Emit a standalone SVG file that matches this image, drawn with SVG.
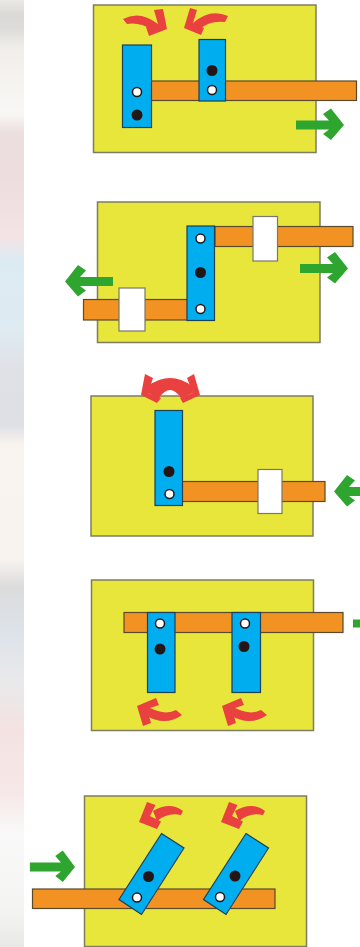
<svg xmlns="http://www.w3.org/2000/svg" xmlns:xlink="http://www.w3.org/1999/xlink" width="360" height="947" viewBox="0 0 360 947">
<style>
.panel{fill:#e9e63a;stroke:#7d7d63;stroke-width:1.5}
.bar{fill:#f29222;stroke:#5a4a2a;stroke-width:1.2}
.link{fill:#00aeef;stroke:#1b3f57;stroke-width:1.2}
.slide{fill:#fff;stroke:#77776a;stroke-width:1.2}
.pin{fill:#231815}
.pivot{fill:#fff;stroke:#231815;stroke-width:1.5}
.g{fill:#2fa52f}
.r{fill:#e9403f}
.soft{filter:url(#soft)}
</style>
<defs>
<filter id="soft" x="-2%" y="-2%" width="104%" height="104%"><feGaussianBlur stdDeviation="0.45"/></filter>
<linearGradient id="bg" gradientUnits="userSpaceOnUse" x1="0" y1="0" x2="0" y2="947">
<stop offset="0" stop-color="#ebe9e5"/><stop offset=".015" stop-color="#d9d9d7"/><stop offset=".03" stop-color="#dcdbd9"/><stop offset=".05" stop-color="#f1eeea"/><stop offset=".12" stop-color="#f9f7f5"/><stop offset=".14" stop-color="#ecdfdf"/><stop offset=".18" stop-color="#eddcde"/><stop offset=".25" stop-color="#f3e3e5"/><stop offset=".275" stop-color="#dcebf2"/><stop offset=".35" stop-color="#dfeaf1"/><stop offset=".39" stop-color="#dfe1e7"/><stop offset=".45" stop-color="#dfe0e6"/><stop offset=".47" stop-color="#faf4ef"/><stop offset=".59" stop-color="#f8f3ef"/><stop offset=".62" stop-color="#dcdcdc"/><stop offset=".67" stop-color="#dde3ea"/><stop offset=".72" stop-color="#e9e9ea"/><stop offset=".77" stop-color="#f4e2e2"/><stop offset=".84" stop-color="#f6e8e8"/><stop offset=".88" stop-color="#f9f9f9"/><stop offset=".96" stop-color="#f4f4f3"/><stop offset="1" stop-color="#e8e8e6"/>
</linearGradient>
<polygon id="greenArrow" class="g" points="-48,-4.500 -15,-4.500 -21,-11 -13,-16.500 0,0 -13,15 -21,9 -15,4.500 -48,4.500"/>
<g id="redUp"><polygon points="137,706 156,698 159,705 147,709 151,723 143,726"/><path d="M148,707Q165,716 176,710L182,715Q165,727 145,715Z"/></g>
<g id="redTilt"><polygon points="147,802 155.500,805 150,816 161,821.500 157,829 139,822"/><path d="M153,811Q170,801 183,811L181,815Q168,812 157,821Z"/></g>
</defs>
<rect width="360" height="947" fill="#fff"/>
<rect id="backdrop" width="24" height="947" fill="url(#bg)"/>
<g class="soft">
<g id="panel1">
<rect class="panel" x="93.500" y="5" width="222.500" height="147.500"/>
<rect class="bar" x="151" y="81" width="205.500" height="19.500"/>
<rect class="link" x="122.500" y="45" width="29" height="82.500"/>
<rect class="link" x="199" y="39.500" width="26.500" height="61.500"/>
<circle class="pivot" cx="137" cy="92" r="4.500"/><circle class="pin" cx="137" cy="115" r="5.500"/>
<circle class="pin" cx="212" cy="70.500" r="5.500"/><circle class="pivot" cx="212" cy="90" r="4.500"/>
</g>
<g id="panel2">
<rect class="panel" x="97.500" y="202" width="222.500" height="140.500"/>
<rect class="bar" x="215" y="226.500" width="138" height="20"/>
<rect class="bar" x="83.500" y="299.500" width="104" height="20.500"/>
<rect class="slide" x="253" y="216.500" width="24.500" height="44.500"/>
<rect class="slide" x="119" y="288" width="26" height="43"/>
<rect class="link" x="187" y="226" width="27.500" height="94.500"/>
<circle class="pivot" cx="200.500" cy="238.500" r="4.500"/><circle class="pin" cx="200.500" cy="272.500" r="5.500"/><circle class="pivot" cx="200.500" cy="309" r="4.500"/>
</g>
<g id="panel3">
<rect class="panel" x="91" y="396" width="222" height="140"/>
<rect class="bar" x="182" y="481.500" width="143" height="20"/>
<rect class="slide" x="258" y="469.500" width="24" height="44"/>
<rect class="link" x="155" y="410.500" width="27.500" height="95"/>
<circle class="pin" cx="169" cy="471.500" r="5.500"/><circle class="pivot" cx="169.500" cy="494" r="4.500"/>
</g>
<g id="panel4">
<rect class="panel" x="91.500" y="580" width="222" height="150.500"/>
<rect class="bar" x="124" y="612.500" width="219" height="20"/>
<rect class="link" x="147.500" y="612.500" width="27.500" height="80"/>
<rect class="link" x="232" y="612.500" width="28.500" height="80"/>
<circle class="pivot" cx="160" cy="623.500" r="4.500"/><circle class="pin" cx="160" cy="649" r="5.500"/>
<circle class="pivot" cx="245" cy="623.500" r="4.500"/><circle class="pin" cx="244" cy="646.500" r="5.500"/>
</g>
<g id="panel5">
<rect class="panel" x="84.500" y="796" width="222" height="150.500"/>
<rect class="bar" x="32.500" y="889" width="242.500" height="19.500"/>
<polygon class="link" points="161.500,833.500 184,848 141.500,914.500 119,899.500"/>
<polygon class="link" points="246,833.500 268.500,848 226,914.500 203.500,899.500"/>
<circle class="pin" cx="148.500" cy="876.500" r="5.500"/><circle class="pivot" cx="137" cy="897.500" r="4.500"/>
<circle class="pin" cx="235" cy="876" r="5.500"/><circle class="pivot" cx="220" cy="897" r="4.500"/>
</g>
<g id="connectors">
<use xlink:href="#greenArrow" href="#greenArrow" transform="translate(344,125)"/>
<use xlink:href="#greenArrow" href="#greenArrow" transform="translate(348,268.500)"/>
<use xlink:href="#greenArrow" href="#greenArrow" transform="translate(65,281.500) scale(-1,1)"/>
<use xlink:href="#greenArrow" href="#greenArrow" transform="translate(334,491.500) scale(-1,1)"/>
<rect class="g" x="353" y="619.500" width="7" height="8"/>
<use xlink:href="#greenArrow" href="#greenArrow" transform="translate(75,867) scale(.94,1)"/>
<g class="r">
<path d="M123,19Q140,10 158,24L152,30Q140,22 127,24Z"/><polygon points="154,10 163,9 167,29 149,36 146,27 158,24"/>
<path d="M228,16Q210,8 193,23L198,30Q210,20 225,22Z"/><polygon points="190,8 197,10 193,23 204,28 201,35 184,28"/>
<path d="M148,386Q170,370 192,386L193,393L181,398Q170,382 159,398L148,393Z"/>
<polygon points="145,374 153,378 148,393 161,398 157,403 141,395"/><polygon points="194,374 187,378 193,393 180,398 183,403 200,395"/>
<use xlink:href="#redUp" href="#redUp"/><use xlink:href="#redUp" href="#redUp" transform="translate(85,0)"/>
<use xlink:href="#redTilt" href="#redTilt"/><use xlink:href="#redTilt" href="#redTilt" transform="translate(82,0)"/>
</g>
</g>
</g>
</svg>
